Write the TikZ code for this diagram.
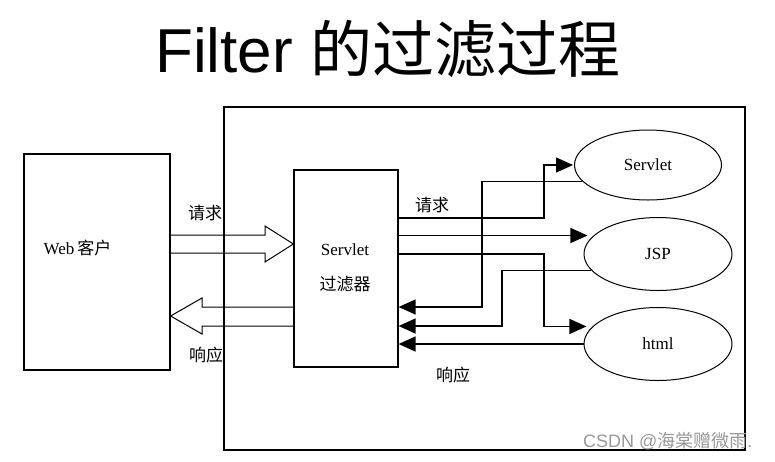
\documentclass[tikz,border=0pt]{standalone}
\usepackage{fontspec}
\setmainfont{Liberation Serif}
\newfontfamily\cjk{Noto Sans CJK SC}
\newfontfamily\arial{Liberation Sans}
\usetikzlibrary{arrows.meta,shapes.geometric}
\begin{document}
\begin{tikzpicture}[x=1pt,y=-1pt,
  every node/.style={inner sep=0pt},
  box/.style={draw, line width=1.2pt},
  oval/.style={draw, ellipse, line width=1pt, inner sep=0pt, font=\fontsize{17}{20}\selectfont},
  conn/.style={line width=1.3pt, -{Triangle[length=17pt,width=15pt]}},
  hollow/.style={line width=1pt},
  lbl/.style={font=\fontsize{17}{20}\selectfont},
  zh/.style={font=\cjk\fontsize{17}{20}\selectfont},
]
\useasboundingbox (0,0) rectangle (775,461);

% title
\node[anchor=base west, font=\fontsize{62}{70}\selectfont] (title) at (155,72) {\arial Filter \cjk 的过滤过程};

% frame
\node[box, minimum width=521pt, minimum height=343pt] (frame) at (484.5,278.5) {};

% web client
\node[box, minimum width=146pt, minimum height=216pt] (web) at (97,262) {};
\node[lbl] (weblbl) at (77.5,248) {Web\,{\cjk 客户}};

% filter
\node[box, minimum width=104pt, minimum height=197pt] (filter) at (346,268.5) {};
\node[lbl] (ftxt1) at (345,250) {Servlet};
\node[zh] (ftxt2) at (345,284) {过滤器};

% resources
\node[oval, minimum width=147pt, minimum height=70pt] (servlet) at (648,165) {Servlet};
\node[oval, minimum width=148pt, minimum height=73pt] (jsp) at (658,254) {JSP};
\node[oval, minimum width=148pt, minimum height=73pt] (html) at (658,344) {html};

% labels
\node[zh] (lreq1) at (205,213) {请求};
\node[zh] (lresp1) at (206,355) {响应};
\node[zh] (lreq2) at (432,205) {请求};
\node[zh] (lresp2) at (453,375) {响应};

% helper coordinates
\coordinate (xa) at (544,0);
\coordinate (xb) at (482,0);
\coordinate (xc) at (502,0);
\coordinate (r1) at (0,218);
\coordinate (r3) at (0,254);
\coordinate (r4) at (0,307);
\coordinate (r5) at (0,326);
\coordinate (h1) at (0,235);
\coordinate (h2) at (0,253);
\coordinate (h3) at (0,244);
\coordinate (h4) at (0,307);
\coordinate (h5) at (0,326);
\coordinate (h6) at (0,316);

% hollow arrows
\draw[hollow] (web.east |- h1) -- (265,235) -- (265,226) -- (filter.west |- h3) -- (265,262) -- (265,253) -- (web.east |- h2);
\draw[hollow] (filter.west |- h4) -- (202,307) -- (202,298) -- (web.east |- h6) -- (202,334) -- (202,326) -- (filter.west |- h5);

% requests
\draw[conn, shorten >=1pt] (filter.east |- r1) -| (xa |- servlet.west) -- (servlet.west);
\draw[conn, shorten >=6pt] (filter.east |- jsp.164) -- (jsp.164);
\draw[conn, shorten >=6pt] (filter.east |- r3) -| (xa |- html.165) -- (html.165);

% responses
\draw[conn] (servlet.194) -| (xb |- r4) -- (filter.east |- r4);
\draw[conn] (jsp.194) -| (xc |- r5) -- (filter.east |- r5);
\draw[conn] (html.west) -- (filter.east |- html.west);

% watermark
\node[anchor=west, text=black!40, font=\arial\fontsize{18}{20}\selectfont] (wm) at (583,441) {CSDN @{\cjk 海棠赠微雨}.};
\end{tikzpicture}
\end{document}
